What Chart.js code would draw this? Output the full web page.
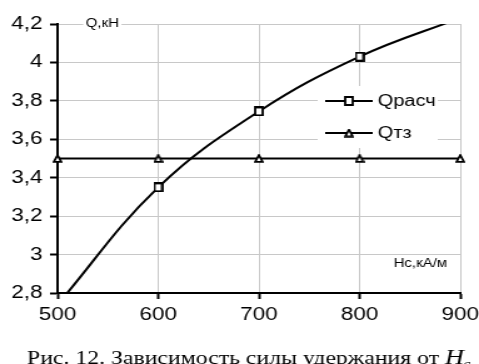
<!DOCTYPE html>
<html>
<head>
<meta charset="utf-8">
<script src="https://cdn.jsdelivr.net/npm/chart.js@4/dist/chart.umd.min.js"></script>
<style>
  html, body { margin: 0; padding: 0; background: #fff; overflow: hidden; }
  /* the source figure is stretched horizontally, so the chart is drawn narrow and widened */
  #wrap { width: 383px; height: 364px; transform: scaleX(1.2507); transform-origin: 0 0; }
</style>
</head>
<body>
<div id="wrap"><canvas id="chart" width="383" height="364"></canvas></div>
<script>
// Hc, кА/м
var hc = [500, 600, 700, 800, 900];
// Qрасч, кН (first and last points fall outside the visible range)
var qCalc = [2.74, 3.35, 3.745, 4.03, 4.232];
// Qтз, кН
var qReq = [3.5, 3.5, 3.5, 3.5, 3.5];

var xTicks = [500, 600, 700, 800, 900];
var yTicks = [2.8, 3, 3.2, 3.4, 3.6, 3.8, 4, 4.2];

var seriesNames = ['Qрасч', 'Qтз'];
var caption = 'Рис. 12. Зависимость силы удержания от ';

function toPoints(xs, ys) {
    return xs.map(function (x, i) { return { x: x, y: ys[i] }; });
}

function fmt(v) {
    return String(Math.round(v * 10) / 10).replace('.', ',');
}

var SANS = '"Liberation Sans", Arial, sans-serif';
var SERIF = '"Liberation Serif", "Times New Roman", serif';

// marker images, drawn narrow to undo the horizontal stretch
function squareMarker() {
    var c = document.createElement('canvas');
    c.width = 8; c.height = 10;
    var g = c.getContext('2d');
    g.fillStyle = '#fff';
    g.strokeStyle = '#000';
    g.lineWidth = 1.8;
    g.beginPath();
    g.rect(1, 1, 6, 8);
    g.fill();
    g.stroke();
    return c;
}
function triangleMarker() {
    var c = document.createElement('canvas');
    c.width = 8; c.height = 9;
    var g = c.getContext('2d');
    g.fillStyle = '#fff';
    g.strokeStyle = '#000';
    g.lineWidth = 1.8;
    g.beginPath();
    g.moveTo(4, 1.2);
    g.lineTo(7, 7.9);
    g.lineTo(1, 7.9);
    g.closePath();
    g.fill();
    g.stroke();
    return c;
}
var markers = [squareMarker(), triangleMarker()];

var extras = {
    id: 'extras',
    afterDatasetsDraw: function (chart) {
        var ctx = chart.ctx;
        var xs = chart.scales.x, ys = chart.scales.y;
        ctx.save();

        // axis captions inside the plot
        ctx.font = '12px ' + SANS;
        ctx.textBaseline = 'middle';
        var t = 'Q,кН';
        var w = ctx.measureText(t).width;
        var tx = xs.getPixelForValue(528), ty = ys.getPixelForValue(4.2);
        ctx.fillStyle = '#fff';
        ctx.fillRect(tx - 2, ty - 7, w + 4, 14);
        ctx.fillStyle = '#000';
        ctx.textAlign = 'left';
        ctx.fillText(t, tx, ty);

        ctx.textAlign = 'right';
        ctx.fillText('Hc,кА/м', xs.getPixelForValue(887), ys.getPixelForValue(2.95));

        // legend
        ctx.fillStyle = '#fff';
        ctx.fillRect(254, 86, 96, 62);
        chart.data.datasets.forEach(function (ds, i) {
            var y = 101 + i * 32;
            ctx.strokeStyle = '#000';
            ctx.lineWidth = 2;
            ctx.beginPath();
            ctx.moveTo(260, y);
            ctx.lineTo(298, y);
            ctx.stroke();
            var m = markers[i];
            ctx.drawImage(m, 279 - m.width / 2, y - m.height / 2);
            ctx.fillStyle = '#000';
            ctx.font = '16px ' + SANS;
            ctx.textAlign = 'left';
            ctx.textBaseline = 'middle';
            ctx.fillText(ds.label, 302, y + 1);
        });

        // figure caption
        ctx.textBaseline = 'alphabetic';
        ctx.textAlign = 'left';
        ctx.font = '19px ' + SERIF;
        ctx.fillText(caption, 21.6, 364);
        var cw = ctx.measureText(caption).width;
        ctx.font = 'italic 21px ' + SERIF;
        ctx.fillText('H', 21.6 + cw, 364);
        var hw = ctx.measureText('H').width;
        ctx.font = 'italic 14px ' + SERIF;
        ctx.fillText('c', 21.6 + cw + hw - 1, 369);
        ctx.restore();
    }
};

new Chart(document.getElementById('chart'), {
    type: 'line',
    data: {
        datasets: [{
            label: seriesNames[0],
            data: toPoints(hc, qCalc),
            borderColor: '#000',
            borderWidth: 2,
            tension: 0.4,
            pointStyle: markers[0],
            pointRadius: 5,
            clip: 0
        }, {
            label: seriesNames[1],
            data: toPoints(hc, qReq),
            borderColor: '#000',
            borderWidth: 2,
            tension: 0,
            pointStyle: markers[1],
            pointRadius: 5,
            clip: false
        }]
    },
    options: {
        responsive: false,
        animation: false,
        events: [],
        layout: { padding: { top: 24, right: 15, left: 0, bottom: 0 } },
        plugins: { legend: { display: false }, tooltip: { enabled: false } },
        scales: {
            x: {
                type: 'linear',
                min: 500, max: 900,
                afterFit: function (s) { s.height = 71; s.paddingLeft = 0; s.paddingRight = 0; },
                afterBuildTicks: function (s) { s.ticks = xTicks.map(function (v) { return { value: v }; }); },
                grid: { color: '#c8c8c8', lineWidth: 1, tickLength: 6, tickColor: '#000', tickWidth: 2 },
                border: { color: '#000', width: 2 },
                ticks: { color: '#000', font: { family: SANS, size: 18 }, padding: 5, maxRotation: 0 }
            },
            y: {
                min: 2.8, max: 4.2,
                afterFit: function (s) { s.width = 46; s.paddingTop = 0; s.paddingBottom = 0; },
                afterBuildTicks: function (s) { s.ticks = yTicks.map(function (v) { return { value: v }; }); },
                grid: { color: '#c8c8c8', lineWidth: 1, tickLength: 6, tickColor: '#000', tickWidth: 2 },
                border: { color: '#000', width: 2 },
                ticks: { color: '#000', font: { family: SANS, size: 18 }, padding: 6, callback: function (v) { return fmt(v); } }
            }
        }
    },
    plugins: [extras]
});
</script>
</body>
</html>
